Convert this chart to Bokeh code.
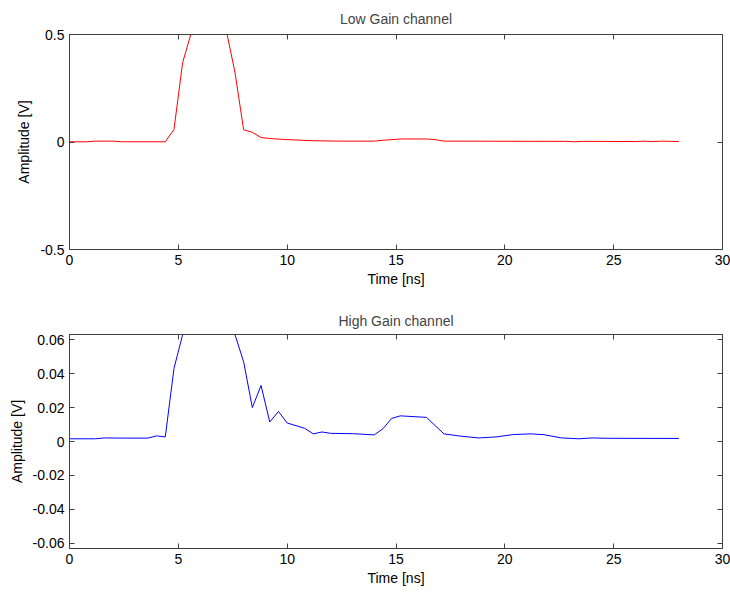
from bokeh.plotting import figure
from bokeh.layouts import column
from bokeh.models import LinearAxis, FixedTicker, Range1d
from bokeh.embed import file_html
from bokeh.resources import INLINE

# ---- data ----
low_t = [0.0, 0.8, 1.2, 2.0, 2.4, 4.4, 4.8, 5.2, 5.6, 6.0, 6.4, 6.8, 7.2, 7.6, 8.0, 8.4,
         8.8, 9.2, 10.0, 11.2, 12.4, 14.0, 14.4, 15.2, 16.4, 16.8, 17.2, 22.8, 23.2, 23.6,
         26.0, 26.4, 26.8, 27.2, 28.0]
low_v = [0.001, 0.001, 0.004, 0.004, 0.001, 0.001, 0.058, 0.37, 0.51, 0.9, 1.0, 0.9, 0.52,
         0.325, 0.057, 0.045, 0.021, 0.016, 0.011, 0.006, 0.004, 0.004, 0.008, 0.014, 0.014,
         0.011, 0.004, 0.003, 0.001, 0.003, 0.002, 0.004, 0.002, 0.004, 0.002]

high_t = [0.0, 1.2, 1.6, 2.4, 3.6, 4.0, 4.4, 4.8, 5.2, 5.6, 6.0, 6.4, 6.8, 7.2, 7.6, 8.0,
          8.4, 8.8, 9.2, 9.6, 10.0, 10.8, 11.2, 11.6, 12.0, 13.0, 14.0, 14.4, 14.8, 15.2,
          16.4, 17.2, 18.0, 18.8, 19.6, 20.4, 21.2, 21.8, 22.6, 23.4, 24.0, 24.6, 28.0]
high_v = [0.0016, 0.0016, 0.0021, 0.0020, 0.0020, 0.0033, 0.0027, 0.043, 0.063, 0.09, 0.11,
          0.12, 0.115, 0.09, 0.063, 0.047, 0.020, 0.033, 0.0115, 0.0177, 0.0109, 0.0078,
          0.0045, 0.0056, 0.0048, 0.0046, 0.0039, 0.0075, 0.0136, 0.0151, 0.0142, 0.0045,
          0.0031, 0.0021, 0.0027, 0.0041, 0.0045, 0.0040, 0.0021, 0.0016, 0.0021, 0.0019,
          0.0018]

x_ticks = [0, 5, 10, 15, 20, 25, 30]
low_ticks = [-0.5, 0, 0.5]
high_ticks = [-0.06, -0.04, -0.02, 0, 0.02, 0.04, 0.06]

FONT = "Liberation Sans"
FS = "14px"
AXC = "#404040"


def style_axis(ax, ticks, show_labels=True):
    ax.ticker = FixedTicker(ticks=ticks)
    ax.major_tick_in = 5
    ax.major_tick_out = 0
    ax.minor_tick_in = 0
    ax.minor_tick_out = 0
    ax.major_tick_line_color = AXC
    ax.axis_line_color = AXC
    ax.major_label_text_font = FONT
    ax.major_label_text_font_size = FS
    ax.major_label_text_color = "#000000"
    ax.axis_label_text_font = FONT
    ax.axis_label_text_font_size = FS
    ax.axis_label_text_font_style = "normal"
    ax.axis_label_text_color = "#000000"
    if not show_labels:
        ax.major_label_text_color = None
        ax.major_label_text_font_size = "1px"
        ax.major_label_standoff = 0


def make_fig(title, t, v, color, yrange, yticks, overrides, top_border, bottom_border, fh,
             title_standoff):
    p = figure(frame_width=653, frame_height=fh, output_backend="svg",
               toolbar_location=None, x_range=Range1d(0, 30), y_range=Range1d(*yrange),
               min_border_left=69, min_border_right=8, min_border_top=top_border,
               min_border_bottom=bottom_border)
    p.title.text = title
    p.title.align = "center"
    p.title.text_font = FONT
    p.title.text_font_size = FS
    p.title.text_font_style = "normal"
    p.title.standoff = title_standoff
    p.xgrid.visible = False
    p.ygrid.visible = False
    p.outline_line_color = AXC
    p.background_fill_color = "white"
    p.border_fill_color = "white"

    style_axis(p.xaxis[0], x_ticks)
    p.xaxis[0].axis_label = "Time [ns]"
    p.xaxis[0].major_label_standoff = 5
    p.xaxis[0].axis_label_standoff = 3
    style_axis(p.yaxis[0], yticks)
    p.yaxis[0].axis_label = "Amplitude [V]"
    p.yaxis[0].major_label_standoff = 5
    p.yaxis[0].axis_label_standoff = 5
    p.yaxis[0].major_label_overrides = overrides

    top = LinearAxis()
    style_axis(top, x_ticks, show_labels=False)
    p.add_layout(top, "above")
    right = LinearAxis()
    style_axis(right, yticks, show_labels=False)
    p.add_layout(right, "right")

    p.line(t, v, line_color=color, line_width=1)
    return p


p1 = make_fig("Low Gain channel", low_t, low_v, "#ff0000", (-0.5, 0.5), low_ticks,
              {0: "0", 0.5: "0.5", -0.5: "-0.5"}, 34, 45, 215, 16)
p2 = make_fig("High Gain channel", high_t, high_v, "#0000ff", (-0.063, 0.063), high_ticks,
              {0: "0", 0.02: "0.02", 0.04: "0.04", 0.06: "0.06",
               -0.02: "-0.02", -0.04: "-0.04", -0.06: "-0.06"}, 40, 40, 214, 12)

layout = column(p1, p2, spacing=0)
open("out.html", "w").write(file_html(layout, INLINE))
